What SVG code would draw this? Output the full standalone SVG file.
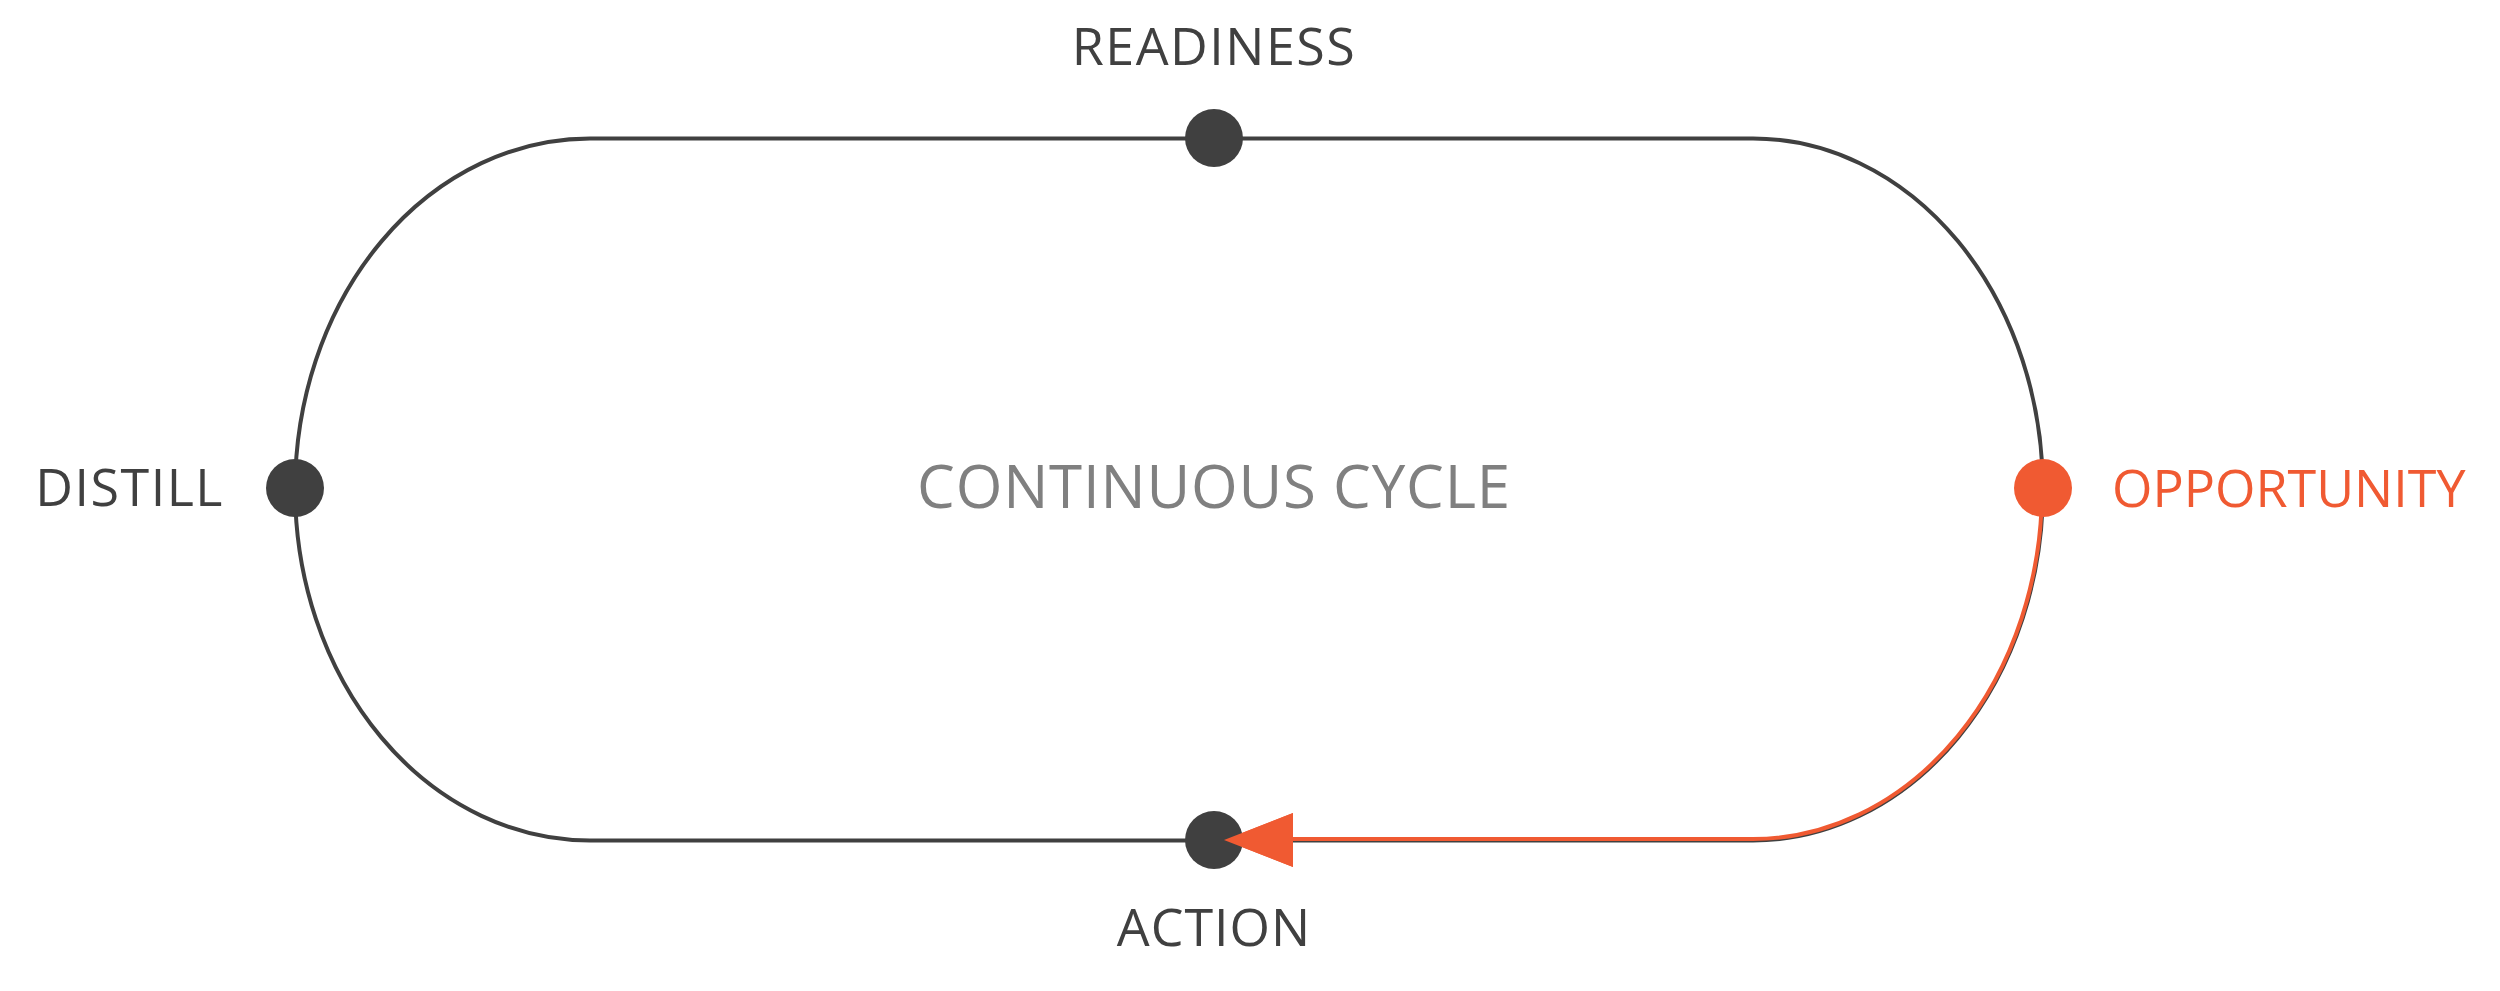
<svg xmlns="http://www.w3.org/2000/svg" width="2500" height="991" viewBox="0 0 2500 991">
<style>
.lbl{font-family:"Open Sans","Noto Sans","Liberation Sans",sans-serif;font-size:52px;fill:#404040}
.dot{fill:#404040}
.track{fill:none;stroke:#404040;stroke-width:4}
.hot{fill:none;stroke:#f05a32;stroke-width:4}
</style>
<rect width="2500" height="991" fill="#ffffff"/>
<g id="connectors">
<path class="track" d="M 590 138.5 L 1753 138.5 A 290 351 0 0 1 1753 840.5 L 590 840.5 A 295 351 0 0 1 590 138.5 Z"/>
<path class="hot" d="M 2042 489 A 289 350 0 0 1 1753 839 L 1290 839"/>
<polygon fill="#f05a32" points="1224,840 1293,813 1293,867"/>
</g>
<g id="readiness">
<circle class="dot" cx="1214" cy="138" r="29"/>
<text class="lbl" x="1214" y="65" text-anchor="middle" letter-spacing="1.5">READINESS</text>
</g>
<g id="distill">
<circle class="dot" cx="295" cy="488" r="29"/>
<text class="lbl" x="224" y="506" text-anchor="end" letter-spacing="1.5">DISTILL</text>
</g>
<g id="opportunity">
<circle cx="2043" cy="488" r="29" fill="#f05a32"/>
<text class="lbl" x="2112" y="507" style="fill:#f05a32">OPPORTUNITY</text>
</g>
<g id="action">
<circle class="dot" cx="1214" cy="840" r="29"/>
<polygon fill="#f05a32" points="1224,840 1293,813 1293,867"/>
<text class="lbl" x="1214" y="946" text-anchor="middle" letter-spacing="1">ACTION</text>
</g>
<g id="center">
<text x="1214" y="508" text-anchor="middle" font-family="Open Sans, Noto Sans, Liberation Sans, sans-serif" font-size="60" fill="#808080" letter-spacing="0.8">CONTINUOUS CYCLE</text>
</g>
</svg>
